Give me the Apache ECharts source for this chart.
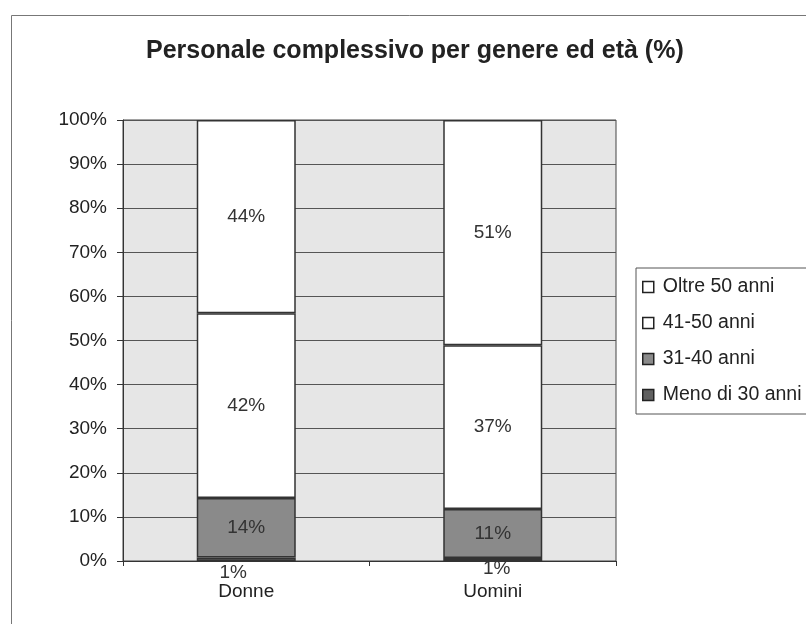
<!DOCTYPE html>
<html><head><meta charset="utf-8">
<script src="https://cdn.jsdelivr.net/npm/echarts@6/dist/echarts.min.js"></script>
<style>html,body{margin:0;padding:0;background:#fff}#c{width:806px;height:624px}</style>
</head><body><div id="c"></div>
<script>
const categories = ['Donne', 'Uomini'];
const meno30 = [0.8, 0.7];
const anni31_40 = [13.5, 11.1];
const anni41_50 = [41.9, 37.1];
const oltre50 = [43.8, 51.1];
const yTicks = [0, 10, 20, 30, 40, 50, 60, 70, 80, 90, 100];

const font = '"Liberation Sans", Arial, sans-serif';
const lbl = {show: true, position: 'inside', fontSize: 19, color: '#333', fontFamily: font,
  formatter: p => Math.round(p.value) + '%'};
const base = {type: 'bar', stack: 'tot', barWidth: 99,
  itemStyle: {borderColor: '#333', borderWidth: 1.5}};

const chart = echarts.init(document.getElementById('c'), null, {renderer: 'canvas'});
chart.setOption({
  animation: false,
  backgroundColor: '#fff',
  graphic: [{type: 'rect', left: 9, top: 13, shape: {width: 900, height: 700},
    style: {fill: 'none', stroke: '#777', lineWidth: 1}, z: -1}],
  title: {text: 'Personale complessivo per genere ed età (%)', left: 141, top: 34,
    textStyle: {fontSize: 25, fontWeight: 'bold', color: '#222', fontFamily: font}},
  grid: {left: 123, right: 190, top: 120, bottom: 63, show: true, backgroundColor: '#e6e6e6',
    borderColor: '#444', borderWidth: 1},
  legend: {orient: 'vertical', left: 636, top: 268, itemWidth: 11, itemHeight: 11, itemGap: 16,
    padding: [9, 12, 9, 6], borderColor: '#555', borderWidth: 1, icon: 'rect',
    data: ['Oltre 50 anni', '41-50 anni', '31-40 anni', 'Meno di 30 anni'],
    itemStyle: {borderColor: '#222', borderWidth: 1.5},
    textStyle: {fontSize: 19.5, color: '#222', fontFamily: font, padding: [0, 0, 0, 4]}},
  xAxis: {type: 'category', data: categories,
    axisLine: {lineStyle: {color: '#333'}},
    axisTick: {show: true, alignWithLabel: false, length: 5, lineStyle: {color: '#333'}},
    axisLabel: {fontSize: 19, color: '#222', margin: 21, fontFamily: font}},
  yAxis: {type: 'value', min: 0, max: 100, interval: 10,
    axisLine: {show: true, lineStyle: {color: '#333'}},
    axisTick: {show: true, length: 6, lineStyle: {color: '#333'}},
    splitLine: {lineStyle: {color: '#555', width: 1.2}},
    axisLabel: {fontSize: 19, color: '#222', margin: 16, fontFamily: font,
      formatter: v => yTicks.includes(v) ? v + '%' : ''}},
  series: [
    Object.assign({}, base, {name: 'Meno di 30 anni', data: [
        {value: meno30[0], label: {offset: [-13, 0]}},
        {value: meno30[1], label: {offset: [4, -4]}}],
      itemStyle: {color: '#606060', borderColor: '#333', borderWidth: 1.5},
      label: Object.assign({}, lbl, {position: 'bottom', distance: 2})}),
    Object.assign({}, base, {name: '31-40 anni', data: anni31_40,
      itemStyle: {color: '#8a8a8a', borderColor: '#333', borderWidth: 1.5}, label: lbl}),
    Object.assign({}, base, {name: '41-50 anni', data: anni41_50,
      itemStyle: {color: '#ffffff', borderColor: '#333', borderWidth: 1.5}, label: lbl}),
    Object.assign({}, base, {name: 'Oltre 50 anni', data: oltre50,
      itemStyle: {color: '#ffffff', borderColor: '#333', borderWidth: 1.5}, label: lbl})
  ]
});
</script></body></html>
